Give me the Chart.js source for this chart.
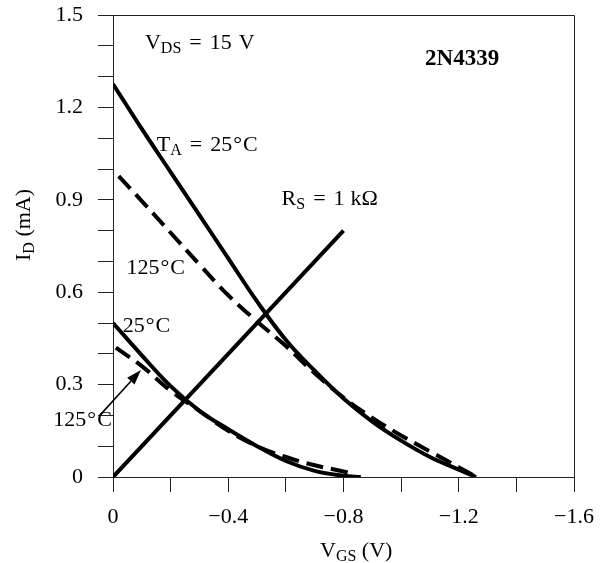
<!DOCTYPE html>
<html lang="en">
<head>
<meta charset="UTF-8">
<title>2N4339 transfer curves</title>
<script src="https://cdn.jsdelivr.net/npm/chart.js@4.4.0/dist/chart.umd.min.js"></script>
<style>
  html, body { margin: 0; padding: 0; background: #fff; }
  #wrap { width: 609px; height: 563px; }
</style>
</head>
<body>
<div id="wrap"><canvas id="chart" width="609" height="563"></canvas></div>
<script>
// V_GS (V) / I_D (mA)
const vgsHi25  = [0, -0.1, -0.2, -0.3, -0.4, -0.5, -0.6, -0.7, -0.8, -0.9, -1.0, -1.1, -1.2, -1.26];
const idHi25   = [1.276, 1.13, 0.99, 0.85, 0.71, 0.57, 0.445, 0.345, 0.255, 0.18, 0.118, 0.065, 0.024, 0];
const vgsHi125 = [-0.02, -0.1, -0.2, -0.3, -0.4, -0.5, -0.6, -0.7, -0.8, -0.9, -1.0, -1.1, -1.2, -1.26];
const idHi125  = [0.977, 0.896, 0.793, 0.69, 0.59, 0.505, 0.425, 0.337, 0.258, 0.192, 0.135, 0.083, 0.032, 0];
const vgsLo25  = [0, -0.1, -0.2, -0.3, -0.4, -0.5, -0.6, -0.7, -0.8, -0.86];
const idLo25   = [0.50, 0.395, 0.295, 0.215, 0.155, 0.10, 0.052, 0.02, 0.004, 0];
const vgsLo125 = [-0.01, -0.1, -0.2, -0.3, -0.4, -0.5, -0.6, -0.7, -0.8, -0.84];
const idLo125  = [0.42, 0.36, 0.28, 0.215, 0.15, 0.10, 0.065, 0.038, 0.018, 0.008];
// source resistor load line, 1 kOhm
const vgsRs = [0, -0.8];
const idRs  = [0, 0.8];

const SERIF = "'Liberation Serif', 'Times New Roman', serif";
const FS = 22;

function pts(xs, ys) {
  return xs.map((x, i) => ({ x: x, y: ys[i] }));
}

function curve(xs, ys, dashed) {
  return {
    data: pts(xs, ys),
    borderColor: '#000',
    borderWidth: 4,
    borderDash: dashed ? [17, 8] : [],
    pointRadius: 0,
    fill: false,
    tension: 0.4
  };
}

// text with subscripts: parts = [text, isSub, gapBefore]
function drawRich(ctx, x, y, parts, size, bold) {
  ctx.textBaseline = 'alphabetic';
  ctx.textAlign = 'left';
  parts.forEach(p => {
    const sub = p[1];
    ctx.font = (bold ? 'bold ' : '') + (sub ? Math.round(size * 0.72) : size) + 'px ' + SERIF;
    x += p[2] || 0;
    ctx.fillText(p[0], x, sub ? y + 4 : y);
    x += ctx.measureText(p[0]).width;
  });
}

// label positions in data units (V, mA) at the text baseline
const notes = [
  { v: -0.111, i: 1.388, parts: [['V'], ['DS', true], ['=', false, 8], ['15', false, 8], ['V', false, 7]] },
  { v: -1.083, i: 1.338, parts: [['2N4339']], size: 23, bold: true },
  { v: -0.152, i: 1.059, parts: [['T'], ['A', true], ['=', false, 8], ['25', false, 8], ['°', false, 1], ['C', false, 1]] },
  { v: -0.585, i: 0.884, parts: [['R'], ['S', true], ['=', false, 8], ['1', false, 8], ['kΩ', false, 6]] },
  { v: -0.047, i: 0.658, parts: [['125'], ['°', false, 1], ['C', false, 1]] },
  { v: -0.034, i: 0.472, parts: [['25'], ['°', false, 1], ['C', false, 1]] },
  { v: 0.207, i: 0.167, parts: [['125'], ['°', false, 1], ['C', false, 1]] }
];
const arrow = { from: [0.045, 0.201], to: [-0.097, 0.347] };

const decor = {
  id: 'decor',
  afterDatasetsDraw(chart) {
    const ctx = chart.ctx;
    const a = chart.chartArea;
    const xs = chart.scales.x, ys = chart.scales.y;
    ctx.save();
    // top and right frame
    ctx.strokeStyle = '#222';
    ctx.lineWidth = 1;
    ctx.beginPath();
    ctx.moveTo(a.left, a.top + 0.5);
    ctx.lineTo(a.right + 0.5, a.top + 0.5);
    ctx.lineTo(a.right + 0.5, a.bottom);
    ctx.stroke();

    ctx.fillStyle = '#000';
    notes.forEach(n => {
      drawRich(ctx, xs.getPixelForValue(n.v), ys.getPixelForValue(n.i), n.parts, n.size || FS, n.bold);
    });

    // arrow to the lower 125 C curve
    const x0 = xs.getPixelForValue(arrow.from[0]), y0 = ys.getPixelForValue(arrow.from[1]);
    const x1 = xs.getPixelForValue(arrow.to[0]), y1 = ys.getPixelForValue(arrow.to[1]);
    const ang = Math.atan2(y1 - y0, x1 - x0);
    const hl = 15, hw = 5;
    ctx.strokeStyle = '#000';
    ctx.lineWidth = 1.6;
    ctx.beginPath();
    ctx.moveTo(x0, y0);
    ctx.lineTo(x1 - hl * Math.cos(ang), y1 - hl * Math.sin(ang));
    ctx.stroke();
    ctx.beginPath();
    ctx.moveTo(x1, y1);
    ctx.lineTo(x1 - hl * Math.cos(ang) + hw * Math.sin(ang), y1 - hl * Math.sin(ang) - hw * Math.cos(ang));
    ctx.lineTo(x1 - hl * Math.cos(ang) - hw * Math.sin(ang), y1 - hl * Math.sin(ang) + hw * Math.cos(ang));
    ctx.closePath();
    ctx.fill();

    // axis titles
    drawRich(ctx, 320, 557, [['V'], ['GS', true], [' (V)']], FS);
    ctx.translate(30, 261);
    ctx.rotate(-Math.PI / 2);
    drawRich(ctx, 0, 0, [['I'], ['D', true], [' (mA)']], FS);
    ctx.restore();
  }
};

function near(v, step) {
  return Math.abs(Math.round(v / step) * step - v) < 1e-6;
}

const axisGrid = { display: true, drawOnChartArea: false, drawTicks: true, tickLength: 15, color: '#222', lineWidth: 1 };

new Chart(document.getElementById('chart'), {
  type: 'line',
  data: {
    datasets: [
      curve(vgsHi25, idHi25, false),
      curve(vgsHi125, idHi125, true),
      curve(vgsLo25, idLo25, false),
      curve(vgsLo125, idLo125, true),
      curve(vgsRs, idRs, false)
    ]
  },
  options: {
    responsive: false,
    animation: false,
    events: [],
    layout: { padding: { left: 0, top: 15, right: 35, bottom: 0 } },
    plugins: { legend: { display: false }, tooltip: { enabled: false } },
    scales: {
      x: {
        type: 'linear',
        min: -1.6,
        max: 0,
        reverse: true,
        afterFit(s) { s.height = 86; s.paddingLeft = 0; s.paddingRight = 0; },
        grid: axisGrid,
        border: { display: true, color: '#222', width: 1 },
        ticks: {
          stepSize: 0.2,
          padding: 12,
          color: '#000',
          font: { family: SERIF, size: FS },
          maxRotation: 0,
          autoSkip: false,
          callback: v => near(v, 0.4) ? (Math.abs(v) < 1e-6 ? '0' : '\u2212' + Math.abs(v).toFixed(1)) : ''
        }
      },
      y: {
        type: 'linear',
        min: 0,
        max: 1.5,
        afterFit(s) { s.width = 113; s.paddingTop = 0; s.paddingBottom = 0; },
        grid: axisGrid,
        border: { display: true, color: '#222', width: 1 },
        ticks: {
          stepSize: 0.1,
          padding: 15,
          color: '#000',
          font: { family: SERIF, size: FS },
          autoSkip: false,
          callback: v => near(v, 0.3) ? (Math.abs(v) < 1e-6 ? '0' : v.toFixed(1)) : ''
        }
      }
    }
  },
  plugins: [decor]
});
</script>
</body>
</html>
